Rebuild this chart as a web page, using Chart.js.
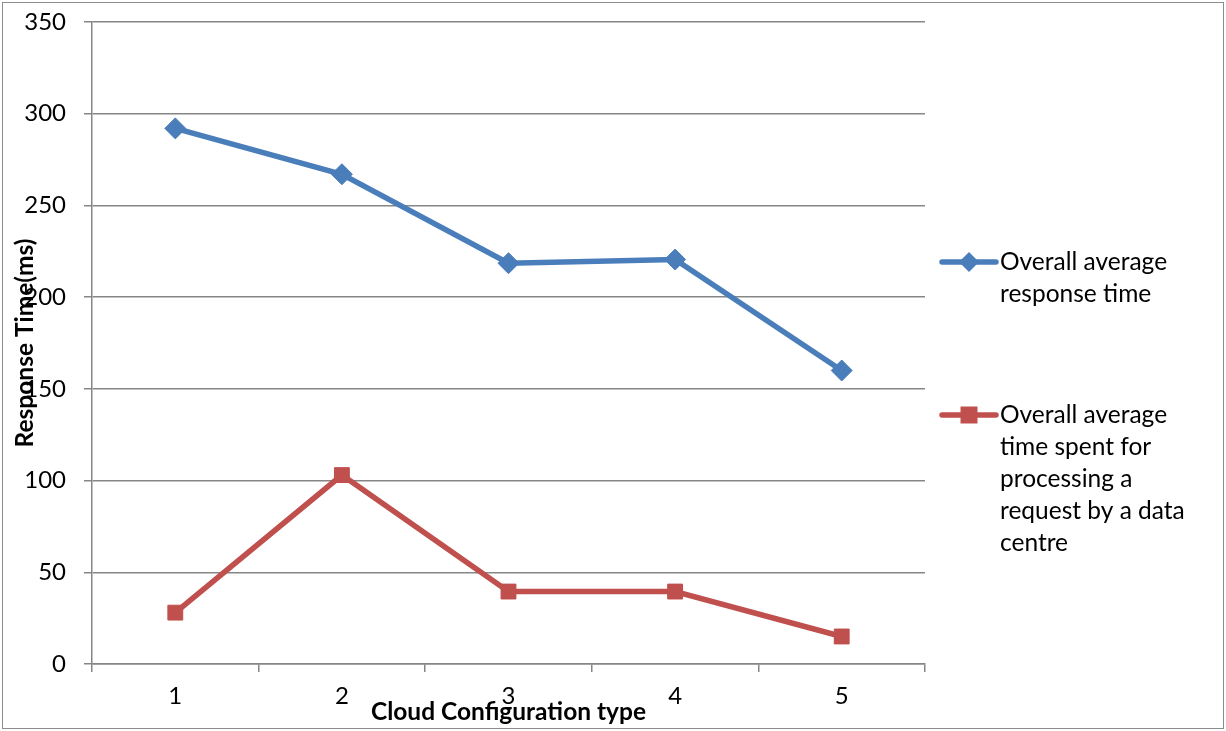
<!DOCTYPE html>
<html>
<head>
<meta charset="utf-8">
<script src="https://cdn.jsdelivr.net/npm/chart.js@4/dist/chart.umd.min.js"></script>
<style>
    body { margin: 0; background: #ffffff; }
    #grafico { display: block; }
</style>
</head>
<body>
<canvas id="grafico" width="1226" height="731"></canvas>
<script>
// dados
const categorias = ['1', '2', '3', '4', '5'];
const tempoResposta = [292, 267, 218.5, 220.5, 160];
const tempoProcessamento = [28, 103, 39.5, 39.5, 15];
const ticksY = [0, 50, 100, 150, 200, 250, 300, 350];

const legendaResposta = ['Overall average', 'response time'];
const legendaProcessamento = ['Overall average', 'time spent for', 'processing a', 'request by a data', 'centre'];

const tituloX = 'Cloud Configuration type';
const tituloY = 'Response Time(ms)';

const fonte = 'Lato, "Open Sans", sans-serif';
const corGrade = '#868686';
const corAzul = '#4A7EBB';
const corVermelho = '#C0504D';

// borda externa, titulos dos eixos e legenda desenhados a mao
const extras = {
    id: 'extras',
    beforeDraw(chart) {
        const ctx = chart.ctx;
        ctx.save();
        ctx.strokeStyle = '#8c8c8c';
        ctx.lineWidth = 1;
        ctx.strokeRect(2.5, 2.5, chart.width - 5, chart.height - 5);
        ctx.restore();
    },
    afterDraw(chart) {
        const ctx = chart.ctx;
        const area = chart.chartArea;
        ctx.save();
        ctx.fillStyle = '#000000';
        ctx.font = 'bold 24.5px ' + fonte;
        ctx.textAlign = 'center';
        ctx.textBaseline = 'middle';
        ctx.fillText(tituloX, (area.left + area.right) / 2, 712);

        ctx.font = 'bold 24.5px ' + fonte;
        ctx.translate(25, (area.top + area.bottom) / 2);
        ctx.rotate(-Math.PI / 2);
        ctx.fillText(tituloY, 0, 0);
        ctx.restore();

        // legenda
        const blocos = [
            { linhas: legendaResposta, ds: chart.data.datasets[0], y: 262 },
            { linhas: legendaProcessamento, ds: chart.data.datasets[1], y: 415 }
        ];
        const x0 = area.right + 17;
        blocos.forEach(function (b) {
            ctx.save();
            ctx.strokeStyle = b.ds.borderColor;
            ctx.lineWidth = 5.5;
            ctx.lineCap = 'round';
            ctx.beginPath();
            ctx.moveTo(x0, b.y);
            ctx.lineTo(x0 + 54, b.y);
            ctx.stroke();
            ctx.fillStyle = b.ds.pointBackgroundColor;
            ctx.beginPath();
            const mx = x0 + 27;
            if (b.ds.pointStyle === 'rectRot') {
                ctx.moveTo(mx, b.y - 10);
                ctx.lineTo(mx + 10, b.y);
                ctx.lineTo(mx, b.y + 10);
                ctx.lineTo(mx - 10, b.y);
                ctx.closePath();
            } else {
                ctx.rect(mx - 8.5, b.y - 8.5, 17, 17);
            }
            ctx.fill();

            ctx.fillStyle = '#000000';
            ctx.font = '24.5px ' + fonte;
            ctx.textAlign = 'left';
            ctx.textBaseline = 'middle';
            b.linhas.forEach(function (linha, i) {
                ctx.fillText(linha, x0 + 58, b.y + i * 32);
            });
            ctx.restore();
        });
    }
};

const dados = {
    labels: categorias,
    datasets: [{
        label: legendaResposta.join(' '),
        data: tempoResposta,
        borderColor: corAzul,
        backgroundColor: corAzul,
        pointBackgroundColor: corAzul,
        pointBorderColor: corAzul,
        pointStyle: 'rectRot',
        pointRadius: 10.5,
        pointBorderWidth: 1,
        borderWidth: 5.5,
        tension: 0
    },
    {
        label: legendaProcessamento.join(' '),
        data: tempoProcessamento,
        borderColor: corVermelho,
        backgroundColor: corVermelho,
        pointBackgroundColor: corVermelho,
        pointBorderColor: corVermelho,
        pointStyle: 'rect',
        pointRadius: 10.5,
        pointBorderWidth: 1,
        borderWidth: 5.5,
        tension: 0
    }]
};

const config = {
    type: 'line',
    data: dados,
    options: {
        responsive: false,
        animation: false,
        layout: {
            padding: { top: 22, right: 301, left: 0, bottom: 0 }
        },
        scales: {
            x: {
                offset: true,
                afterFit: function (scale) {
                    scale.height = 67;
                    scale.paddingLeft = 0;
                    scale.paddingRight = 0;
                },
                grid: {
                    offset: true,
                    drawOnChartArea: false,
                    tickLength: 8,
                    color: corGrade,
                    lineWidth: 1.5
                },
                border: { color: corGrade, width: 1.5 },
                ticks: {
                    color: '#000000',
                    padding: 10,
                    font: { family: fonte, size: 24 }
                }
            },
            y: {
                min: 0,
                max: 350,
                afterFit: function (scale) {
                    scale.width = 92;
                    scale.paddingTop = 0;
                    scale.paddingBottom = 0;
                },
                afterBuildTicks: function (scale) {
                    scale.ticks = ticksY.map(function (v) { return { value: v }; });
                },
                grid: {
                    tickLength: 8,
                    color: corGrade,
                    lineWidth: 1.5
                },
                border: { color: corGrade, width: 1.5 },
                ticks: {
                    color: '#000000',
                    padding: 18,
                    font: { family: fonte, size: 24 }
                }
            }
        },
        plugins: {
            legend: { display: false },
            title: { display: false },
            tooltip: { enabled: false }
        }
    },
    plugins: [extras]
};

let myChart = new Chart(
    document.getElementById('grafico'),
    config
);
</script>
</body>
</html>
